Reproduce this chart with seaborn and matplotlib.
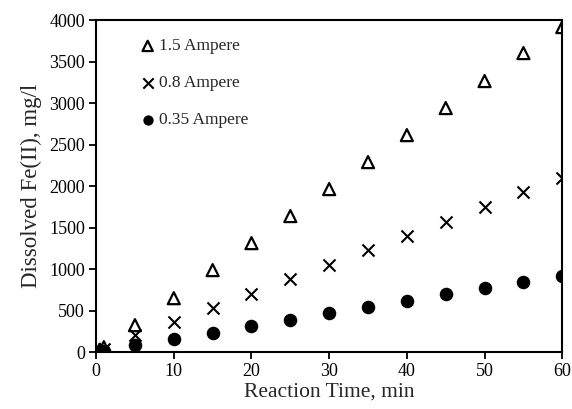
import matplotlib
matplotlib.use("Agg")
import matplotlib.pyplot as plt
import seaborn as sns
import pandas as pd

# reaction time (min) and dissolved Fe(II) (mg/l)
time = [0, 0.5, 1, 5, 10, 15, 20, 25, 30, 35, 40, 45, 50, 55, 60]
fe_15A = [0, 30, 60, 325, 650, 988, 1313, 1639, 1964, 2289, 2614, 2940, 3265, 3602, 3915]
fe_08A = [0, 15, 35, 205, 361, 530, 699, 880, 1048, 1229, 1398, 1566, 1747, 1928, 2096]
fe_035A = [0, 8, 15, 84, 160, 229, 313, 386, 470, 542, 614, 699, 771, 843, 916]

labels = ["1.5 Ampere", "0.8 Ampere", "0.35 Ampere"]

df = pd.DataFrame({"t": time, "a": fe_15A, "b": fe_08A, "c": fe_035A})

sns.set_style("ticks")
plt.rcParams['font.family'] = ['Liberation Serif', 'DejaVu Serif']

fig = plt.figure(figsize=(5.72, 4.09), dpi=100)
ax = fig.add_axes([0.168, 0.139, 0.815, 0.812])

sns.scatterplot(data=df, x="t", y="a", marker="^", s=75, facecolor="none",
                edgecolor="black", linewidth=1.6, label=labels[0], ax=ax, zorder=3)
sns.scatterplot(data=df, x="t", y="b", marker="x", s=75, color="black",
                linewidth=1.5, label=labels[1], ax=ax, zorder=3)
sns.scatterplot(data=df, x="t", y="c", marker="o", s=95, color="black",
                edgecolor="black", linewidth=0, label=labels[2], ax=ax, zorder=3)

ax.set_xlim(0, 60)
ax.set_ylim(0, 4000)
ax.set_xticks(range(0, 61, 10))
ax.set_yticks(range(0, 4001, 500))
for sp in ax.spines.values():
    sp.set_visible(True)
    sp.set_linewidth(1.5)
    sp.set_color("black")
ax.tick_params(axis="both", direction="out", length=5, width=1.3,
               labelsize=13, colors="black", pad=3)
ax.tick_params(top=False, right=False)

ax.set_xlabel("Reaction Time, min", fontsize=15.5, labelpad=2)
ax.set_ylabel("Dissolved Fe(II), mg/l", fontsize=16.5, labelpad=5)

leg = ax.legend(loc="upper left", bbox_to_anchor=(0.092, 0.945), frameon=False,
                fontsize=12.5, handletextpad=0.15, labelspacing=1.2,
                handlelength=1.0, borderaxespad=0, borderpad=0)
for h in leg.legend_handles:
    h.set_sizes([55])

fig.savefig("out.png", dpi=100)
